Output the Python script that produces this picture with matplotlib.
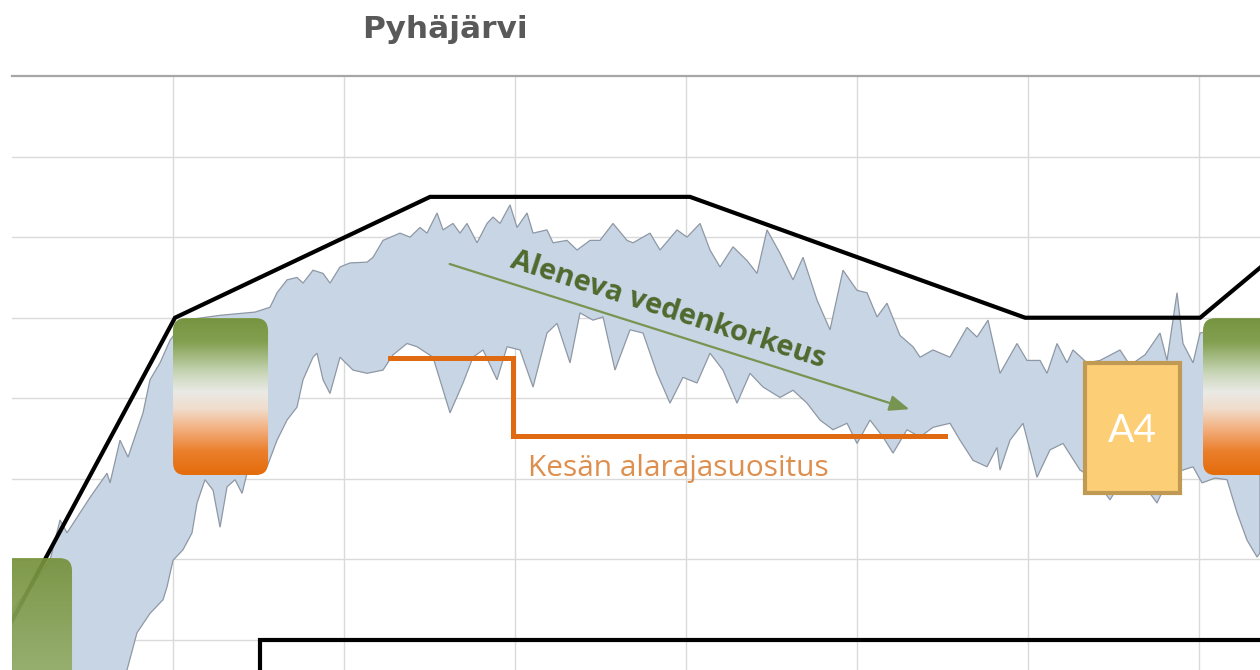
import numpy as np
import matplotlib
matplotlib.use("Agg")
import matplotlib.pyplot as plt
from matplotlib.patches import FancyBboxPatch, Rectangle
from matplotlib.colors import LinearSegmentedColormap

# ---------------- data (x = day of year, y = level in cm) ----------------
upper_day = [1.75, 6.67, 8.42, 10.18, 11.40, 15.44, 18.42, 18.95, 20.70, 22.11, 24.74, 25.96,
             27.72, 29.47, 32.11, 38.25, 44.39, 47.02, 48.25, 50.00, 51.75, 52.81, 54.56, 56.32,
             57.54, 59.30, 61.05, 64.04, 65.09, 66.84, 69.82, 71.58, 73.33, 74.56, 76.32, 77.37,
             79.12, 80.35, 81.58, 83.33, 85.09, 86.14, 87.37, 89.12, 90.35, 92.11, 93.16, 95.61,
             96.67, 99.12, 100.88, 103.16, 104.91, 107.19, 109.65, 110.70, 113.68, 115.44, 118.42,
             120.18, 122.46, 124.21, 125.96, 128.25, 130.70, 132.46, 134.21, 136.49, 138.77, 140.53,
             142.98, 145.26, 147.54, 150.00, 151.75, 153.51, 155.26, 157.54, 159.82, 161.05, 163.33,
             166.32, 169.30, 171.05, 172.98, 175.09, 178.07, 179.82, 182.11, 183.33, 185.09, 186.84,
             187.89, 190.35, 192.63, 196.14, 197.89, 200.53, 203.16, 204.39, 206.14, 207.19, 208.95,
             210.18, 212.81, 217.19, 220.70]
upper_lvl = [3.7, 8.1, 9.9, 14.9, 13.3, 17.7, 20.7, 19.5, 24.8, 22.7, 28.2, 32.3,
             34.4, 37.2, 39.7, 40.3, 40.7, 41.3, 43.1, 44.7, 45.0, 44.3, 45.9, 45.5,
             44.3, 46.3, 46.8, 46.9, 47.5, 49.6, 50.5, 50.0, 51.2, 50.5, 53.0, 50.9,
             51.7, 50.5, 51.7, 49.3, 51.7, 52.5, 51.7, 54.0, 51.2, 53.0, 50.5, 50.9,
             49.3, 49.6, 48.4, 49.6, 49.6, 51.7, 49.6, 49.3, 50.5, 48.4, 50.9,
             50.0, 51.7, 48.4, 46.3, 48.8, 47.1, 45.5, 50.9, 48.0, 44.7, 47.5,
             42.2, 38.5, 45.9, 43.4, 43.1, 40.1, 41.8, 37.8, 36.4, 35.1, 36.0,
             35.1, 38.8, 37.6, 39.7, 33.1, 36.8, 34.7, 34.7, 33.1, 36.8, 34.4,
             36.0, 34.4, 34.7, 36.0, 34.1, 35.4, 38.1, 34.7, 43.1, 36.8, 34.4,
             38.1, 38.5, 39.1, 39.5]

lower_day = [1.75, 17.19, 21.93, 23.68, 25.96, 28.25, 28.95, 30.00, 31.75, 33.33, 34.21, 35.61,
             37.02, 38.25, 39.47, 40.88, 42.11, 42.98, 44.74, 46.49, 48.25, 50.00, 51.75, 52.81,
             54.56, 55.26, 56.32, 57.54, 59.30, 61.58, 64.04, 66.84, 68.60, 71.05, 72.81, 75.61,
             78.60, 80.88, 82.63, 84.39, 86.84, 88.60, 90.88, 93.16, 95.61, 97.37, 99.65, 101.40,
             103.68, 105.44, 107.54, 110.18, 112.46, 114.91, 117.19, 119.47, 121.93, 124.21, 126.49,
             128.95, 131.23, 133.51, 136.49, 138.77, 141.23, 143.51, 145.79, 148.25, 150.00, 152.28,
             154.56, 156.32, 158.77, 161.05, 163.33, 166.32, 168.07, 170.35, 172.81, 174.56, 175.09,
             176.84, 179.12, 181.58, 183.86, 186.14, 189.12, 191.75, 194.39, 197.02, 199.65, 202.63,
             204.91, 207.19, 208.95, 210.53, 212.81, 214.91, 216.67, 218.42, 220.18, 220.70]
lower_lvl = [-7.4, -7.4, -3.7, 0.9, 3.3, 5.0, 6.6, 9.9, 11.2, 13.3, 17.0, 19.9,
             18.6, 14.0, 19.0, 19.9, 18.2, 20.7, 21.1, 21.5, 24.8, 27.3, 28.9, 32.3,
             35.1, 35.6, 32.3, 30.6, 35.1, 33.5, 33.1, 33.5, 35.4, 36.8, 36.4, 35.1,
             28.2, 31.9, 35.1, 36.0, 32.3, 36.4, 36.0, 31.4, 38.1, 39.3, 34.4, 40.6,
             39.7, 40.1, 33.5, 38.5, 38.1, 33.1, 29.4, 32.6, 31.9, 35.6, 33.5,
             29.4, 33.1, 31.4, 30.1, 31.0, 29.4, 27.3, 26.1, 26.9, 24.4, 27.3,
             25.2, 23.2, 26.1, 25.2, 26.4, 26.9, 24.8, 22.3, 21.5, 23.9, 21.1,
             24.8, 26.9, 20.2, 23.6, 24.4, 21.1, 19.9, 17.4, 20.5, 19.9, 17.0,
             20.5, 21.1, 21.5, 19.5, 20.1, 19.9, 15.8, 12.4, 10.3, 10.8]

upper_limit_day = [1.75, 30.35, 75.1, 120.7, 179.5, 210.2, 220.7]
upper_limit_lvl = [2.4, 40.0, 55.0, 55.0, 40.0, 40.0, 46.2]

lower_limit_day = [45.26, 45.26, 220.7]
lower_limit_lvl = [-10.0, 0.0, 0.0]

summer_min_day = [68.1, 89.6, 89.6, 165.4]
summer_min_lvl = [35.0, 35.0, 25.3, 25.3]

x_grid = [30, 60, 90, 120, 150, 180, 210]
y_grid = [0, 10, 20, 30, 40, 50, 60]

title = "Pyhäjärvi"
trend_label = "Aleneva vedenkorkeus"
summer_label = "Kesän alarajasuositus"
box_label = "A4"

# ---------------- figure ----------------
fig = plt.figure(figsize=(12.6, 6.7), dpi=100)
ax = fig.add_axes([12 / 1260, 0, 1248 / 1260, (670 - 76) / 670])
XLIM = (1.75, 220.7)
YLIM = (-3.72, 70.0)

for s in ["left", "right", "bottom"]:
    ax.spines[s].set_visible(False)
ax.spines["top"].set_color("#A6A6A6")
ax.spines["top"].set_linewidth(1.6)
ax.set_xticks([])
ax.set_yticks([])

for xv in x_grid:
    ax.axvline(xv, color="#DADADA", lw=1.0, zorder=0)
for yv in y_grid:
    ax.axhline(yv, color="#DADADA", lw=1.0, zorder=0)

# range band
poly_x = np.r_[upper_day, lower_day[::-1]]
poly_y = np.r_[upper_lvl, lower_lvl[::-1]]
ax.fill(poly_x, poly_y, facecolor="#C8D5E5", edgecolor="#8E98A4", lw=0.9, zorder=2)

# regulation limits
ax.plot(upper_limit_day, upper_limit_lvl, color="black", lw=3, zorder=4, solid_joinstyle="miter")
ax.plot(lower_limit_day, lower_limit_lvl, color="black", lw=3, zorder=4, solid_joinstyle="miter")
ax.plot(summer_min_day, summer_min_lvl, color="#E06A12", lw=3.6, zorder=4, solid_joinstyle="miter")

# trend arrow + text
ax.annotate("", xy=(159.65, 28.54), xytext=(78.07, 46.77),
            arrowprops=dict(arrowstyle="-|>,head_length=0.8,head_width=0.32",
                            mutation_scale=15, color="#779550", lw=1.6), zorder=5)
ax.text(116.4, 40.07, trend_label, rotation=-17.8, rotation_mode="anchor",
        ha="center", va="baseline", fontsize=21, fontweight="bold",
        color="#4F6A2E", family="Open Sans", zorder=6)

ax.text(92.2, 20.4, summer_label, ha="left", va="baseline", fontsize=21.5,
        color="#DE8F4E", family="Open Sans", zorder=6)

# gradient boxes
asp = 5.7 / 8.06
tri_cmap = LinearSegmentedColormap.from_list(
    "tri", [(0.0, "#769440"), (0.15, "#82A050"), (0.35, "#C9D6B8"), (0.47, "#EAEAE6"),
            (0.58, "#F0DCCB"), (0.70, "#F3B283"), (0.85, "#EB7F2C"), (1.0, "#E46C0A")])
green_cmap = LinearSegmentedColormap.from_list(
    "grn", [(0.0, "#76923C"), (1.0, "#9CB473")])


def grad_box(x0, x1, y0, y1, cmap, r, z, alpha=1.0):
    patch = FancyBboxPatch((x0, y0), x1 - x0, y1 - y0,
                           boxstyle=f"round,pad=0,rounding_size={r}",
                           mutation_aspect=asp, facecolor="none", edgecolor="none",
                           transform=ax.transData, zorder=z)
    ax.add_patch(patch)
    grad = np.linspace(0, 1, 256).reshape(-1, 1)
    im = ax.imshow(grad, extent=(x0, x1, y0, y1), origin="upper", cmap=cmap,
                   aspect="auto", zorder=z, alpha=alpha, interpolation="bilinear")
    im.set_clip_path(patch)


grad_box(30.0, 46.67, 20.47, 39.95, tri_cmap, 2.2, 7)
grad_box(210.7, 224.0, 20.47, 39.95, tri_cmap, 2.2, 7)
grad_box(-3.0, 12.28, -8.0, 10.17, green_cmap, 2.2, 7, alpha=0.93)

# A4 box
ax.add_patch(Rectangle((190.0, 18.2), 16.7, 16.2, facecolor="#FCCF76",
                       edgecolor="#C09A52", lw=3, zorder=8))
ax.text(198.35, 25.9, box_label, ha="center", va="center", fontsize=28,
        color="white", family="Lato", zorder=9)

ax.set_xlim(*XLIM)
ax.set_ylim(*YLIM)

fig.text(445 / 1260, 1 - 38 / 670, title, ha="center", va="baseline", fontsize=22.5,
         fontweight="bold", color="#595959", family="DejaVu Sans")

fig.savefig("out.png", dpi=100)
